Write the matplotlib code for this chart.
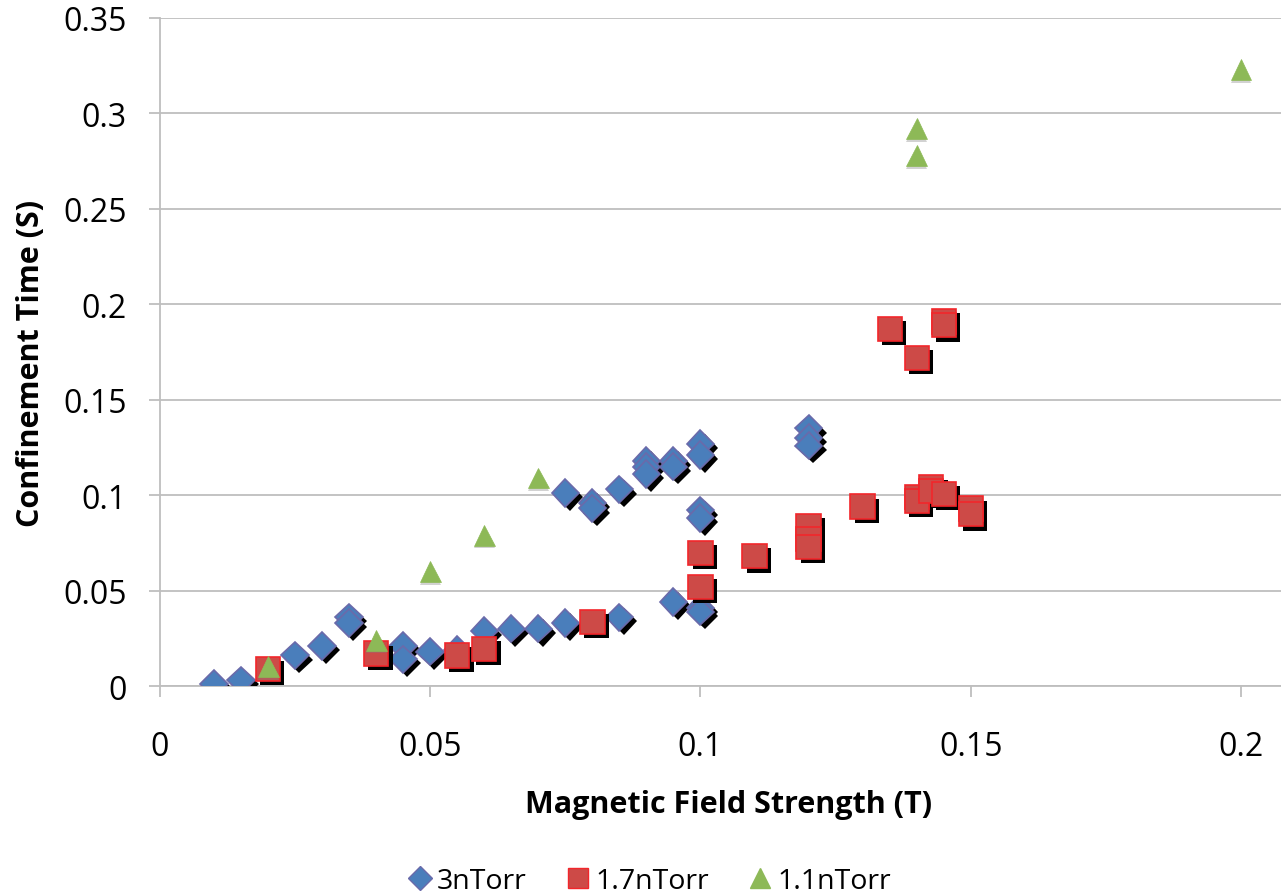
import matplotlib.pyplot as plt
import matplotlib.patheffects as pe

plt.rcParams['font.family'] = ['Open Sans', 'DejaVu Sans']

# 3nTorr series
x_3n = [0.01, 0.015, 0.025, 0.03, 0.035, 0.035, 0.045, 0.045, 0.05, 0.055,
        0.06, 0.065, 0.07, 0.075, 0.08, 0.08, 0.085, 0.075, 0.085, 0.09,
        0.09, 0.09, 0.095, 0.095, 0.095, 0.1, 0.1, 0.1, 0.1, 0.1,
        0.1, 0.12, 0.12, 0.12]
y_3n = [0.001, 0.003, 0.016, 0.021, 0.036, 0.033, 0.021, 0.014, 0.018, 0.019,
        0.029, 0.030, 0.030, 0.033, 0.096, 0.093, 0.036, 0.101, 0.103, 0.118,
        0.115, 0.111, 0.118, 0.115, 0.044, 0.127, 0.121, 0.092, 0.088, 0.041,
        0.039, 0.135, 0.130, 0.126]

# 1.7nTorr series
x_17n = [0.02, 0.04, 0.055, 0.06, 0.08, 0.1, 0.1, 0.11, 0.12, 0.12,
         0.12, 0.13, 0.135, 0.14, 0.145, 0.145, 0.14, 0.14, 0.1427, 0.1427,
         0.145, 0.15, 0.15]
y_17n = [0.009, 0.017, 0.016, 0.0195, 0.0335, 0.0697, 0.052, 0.068, 0.084, 0.077,
         0.073, 0.094, 0.187, 0.172, 0.191, 0.189, 0.099, 0.097, 0.104, 0.102,
         0.1006, 0.093, 0.090]

# 1.1nTorr series
x_11n = [0.02, 0.04, 0.05, 0.06, 0.07, 0.14, 0.14, 0.2]
y_11n = [0.010, 0.024, 0.060, 0.079, 0.109, 0.292, 0.278, 0.323]

x_ticks = [0, 0.05, 0.1, 0.15, 0.2]
x_ticklabels = ['0', '0.05', '0.1', '0.15', '0.2']
y_ticks = [0, 0.05, 0.1, 0.15, 0.2, 0.25, 0.3, 0.35]
y_ticklabels = ['0', '0.05', '0.1', '0.15', '0.2', '0.25', '0.3', '0.35']

fig = plt.figure(figsize=(12.81, 8.95), dpi=100)
ax = fig.add_axes([0.1249, 0.2324, 0.8751, 0.7464])

hard_shadow = [pe.SimplePatchShadow(offset=(3, -3), shadow_rgbFace='black', alpha=1.0), pe.Normal()]
soft_shadow = [pe.SimplePatchShadow(offset=(0, -2), shadow_rgbFace='gray', alpha=0.35), pe.Normal()]

ax.plot(x_3n, y_3n, linestyle='none', marker='D', markersize=14,
        markerfacecolor='#4A7EBB', markeredgecolor='#6A6AAA', markeredgewidth=1.2,
        path_effects=hard_shadow, zorder=3)
ax.plot(x_17n, y_17n, linestyle='none', marker='s', markersize=17.5,
        markerfacecolor='#CD4A47', markeredgecolor='#F2262B', markeredgewidth=1.2,
        path_effects=hard_shadow, zorder=4)
ax.plot(x_11n, y_11n, linestyle='none', marker='^', markersize=15,
        markerfacecolor='#8DB957', markeredgecolor='#8DB957', markeredgewidth=0.5,
        path_effects=soft_shadow, zorder=5)

ax.set_xlim(0, 0.2074)
ax.set_ylim(0, 0.35)
ax.set_xticks(x_ticks)
ax.set_xticklabels(x_ticklabels)
ax.set_yticks(y_ticks)
ax.set_yticklabels(y_ticklabels)

ax.grid(axis='y', color='#BEBEBE', linewidth=1.3)
ax.set_axisbelow(True)
for side in ['top', 'right']:
    ax.spines[side].set_visible(False)
for side in ['left', 'bottom']:
    ax.spines[side].set_color('#BEBEBE')
    ax.spines[side].set_linewidth(1.3)
ax.tick_params(axis='both', colors='#BEBEBE', width=1.3, length=8, labelcolor='black', labelsize=23)
ax.tick_params(axis='x', pad=24)
ax.tick_params(axis='y', pad=16)

ax.set_xlabel('Magnetic Field Strength (T)', fontsize=22, fontweight='bold', va='center')
ax.xaxis.set_label_coords(0.507, -0.177)
ax.set_ylabel('Confinement Time (S)', fontsize=22, fontweight='bold', va='center')
ax.yaxis.set_label_coords(-0.115, 0.485)

# legend uses plain markers without shadows
h1, = ax.plot([], [], linestyle='none', marker='D', markersize=12,
              markerfacecolor='#4A7EBB', markeredgecolor='#6A6AAA')
h2, = ax.plot([], [], linestyle='none', marker='s', markersize=14.5,
              markerfacecolor='#CD4A47', markeredgecolor='#F2262B')
h3, = ax.plot([], [], linestyle='none', marker='^', markersize=14,
              markerfacecolor='#8DB957', markeredgecolor='#8DB957')
fig.legend([h1, h2, h3], ['3nTorr', '1.7nTorr', '1.1nTorr'], loc='lower center',
           bbox_to_anchor=(0.506, -0.03), ncol=3, frameon=False, fontsize=20.5,
           handletextpad=0.1, columnspacing=1.3, handlelength=1.0)

fig.savefig('out.png', dpi=100)
